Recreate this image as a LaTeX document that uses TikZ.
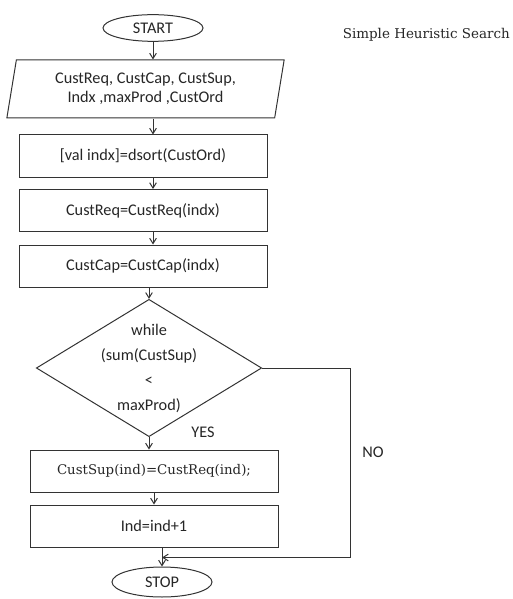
\documentclass[tikz,border=0pt]{standalone}
\usepackage{fontspec}
\setmainfont{Carlito}
\newfontfamily\serifface{DejaVu Serif}
\usetikzlibrary{calc}
\usetikzlibrary{shapes.geometric}
\usetikzlibrary{arrows.meta}
\tikzset{
  terminal/.style = {ellipse, draw=#1, line width=0.75pt, minimum width=75pt, minimum height=20pt, inner sep=0pt},
  io/.style = {trapezium, trapezium left angle=78, trapezium right angle=102, trapezium stretches=true, draw=#1, line width=0.75pt, minimum width=208pt, minimum height=43.5pt, align=center, inner sep=0pt},
  block/.style = {rectangle, draw=#1, line width=0.75pt, minimum width=186pt, minimum height=31.5pt, inner sep=0pt},
  decision/.style = {diamond, draw=#1, line width=0.75pt, minimum width=169pt, minimum height=103pt, inner sep=0pt},
  flow/.style = {color=#1, line width=0.75pt, -{Straight Barb[length=4pt, width=5pt]}},
  tag/.style = {font=\fontsize{12.2}{14}\selectfont, inner sep=0pt}
}

\begin{document}
\begin{tikzpicture}[x=0.75pt, y=-0.75pt, font=\fontsize{12.2}{14}\selectfont, color=black!85]

    \useasboundingbox (0,0) rectangle (512,599);

    % Nodes
    \node[terminal={black!80}] (start) at (153,28) {START};
    \node[io={black!80}] (input) at (145.5,89) {CustReq, CustCap, CustSup,\\Indx ,maxProd ,CustOrd};
    \node[block={black!80}] (sort) at (143,156) {[val indx]=dsort(CustOrd)};
    \node[block={black!80}] (req) at (143,210.5) {CustReq=CustReq(indx)};
    \node[block={black!80}] (cap) at (143,266) {CustCap=CustCap(indx)};
    \node[decision={black!80}, label={[align=center, font=\fontsize{12.2}{18.75}\selectfont]center:while\\(sum(CustSup)\\<\\maxProd)}] (cond) at (149,368) {};
    \node[block={black!80}, font=\serifface\fontsize{10}{12}\selectfont] (sup) at (154,471) {CustSup(ind)=CustReq(ind);};
    \node[block={black!80}] (inc) at (154,526) {Ind=ind+1};
    \node[terminal={black!80}, minimum height=22.5pt] (stop) at (162,582) {STOP};

    \coordinate (bend) at (350,368);
    \coordinate (join) at ($(stop.north)+(0,-9)$);

    % Flow
    \draw[flow={black!80}] (start.south) -- (start.south |- input.north);
    \draw[flow={black!80}] (input.south -| start) -- (sort.north -| start);
    \draw[flow={black!80}] (sort.south -| start) -- (req.north -| start);
    \draw[flow={black!80}] (req.south -| start) -- (cap.north -| start);
    \draw[flow={black!80}] (cap.south -| cond.north) -- (cond.north);
    \draw[flow={black!80}] (cond.south) -- (cond.south |- sup.north);
    \draw[flow={black!80}] (sup.south) -- (inc.north);
    \draw[flow={black!80}] (inc.south -| stop) -- (stop.north);
    \draw[flow={black!80}] (cond.east) -- (bend) |- (join);

    % Labels
    \node[tag] (yes) at (203,432) {YES};
    \node[tag] (no) at (373,452) {NO};
    \node[tag, anchor=east, font=\serifface\fontsize{10.1}{12}\selectfont] (title) at (510,35) {Simple Heuristic Search};

\end{tikzpicture}
\end{document}
